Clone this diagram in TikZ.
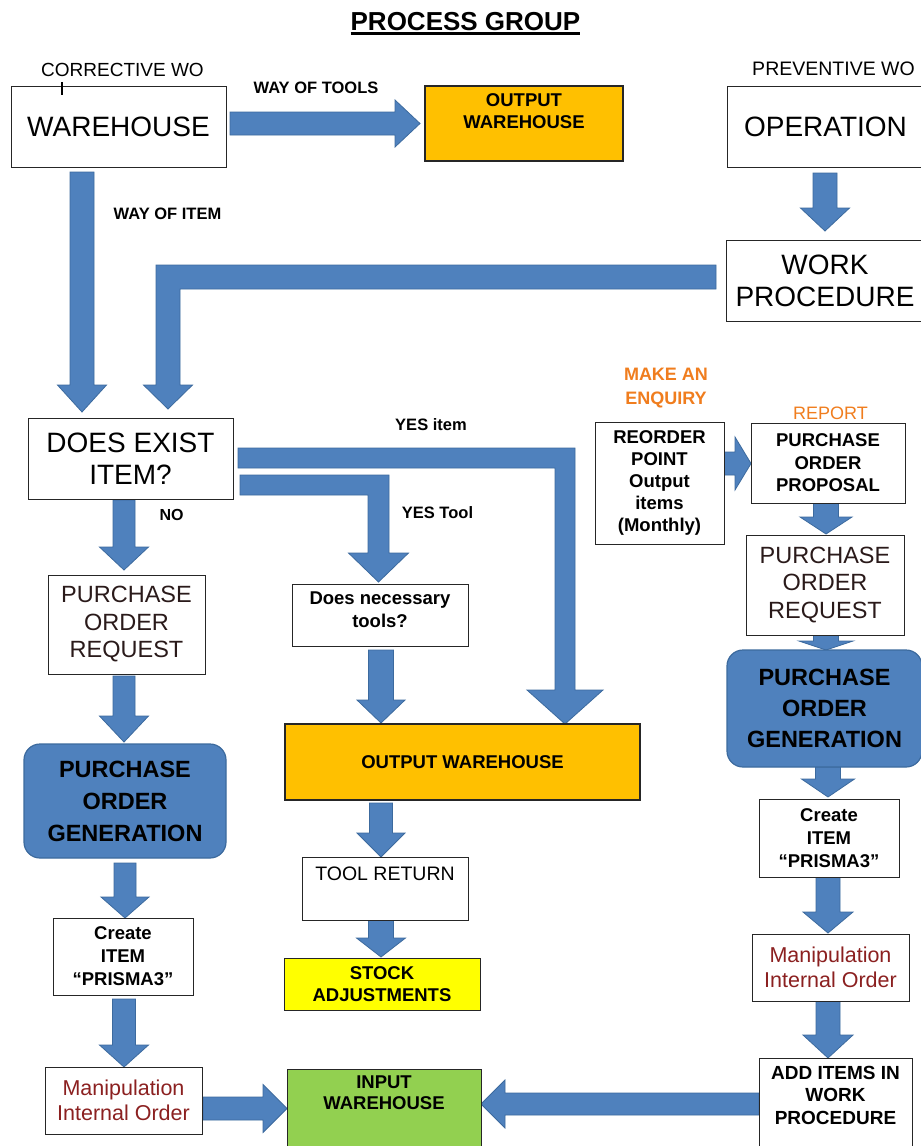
\documentclass[tikz,border=0pt]{standalone}
\usepackage{fontspec}
\setmainfont{Liberation Sans}
\usetikzlibrary{calc}
\definecolor{blu}{HTML}{4F81BD}
\definecolor{bluline}{HTML}{3C6A9E}
\definecolor{orng}{HTML}{FFC000}
\definecolor{yel}{HTML}{FFFF00}
\definecolor{grn}{HTML}{92D050}
\definecolor{txtorange}{HTML}{F07D1E}
\definecolor{dkred}{HTML}{8B2020}
\definecolor{dktext}{HTML}{2A1A1A}
\pgfdeclarelayer{back}
\pgfdeclarelayer{bg}
\pgfsetlayers{back,bg,main}
\newcommand\fsz[2]{\fontsize{#1pt}{#2pt}\selectfont}
% box: style, name, x, y, w, h, valign, font, text
\newcommand\bx[9]{\node[#1,anchor=north west,inner sep=0pt,outer sep=0pt] (#2) at (#3,#4) {\parbox[c][#6pt][#7]{#5pt}{\centering#8 #9\par}};}
% vertical block arrow: xc, src, tgt, shaft half, head half, head len, gap start, gap end
\newcommand\vblk[8]{\filldraw[blk] let \p1=(#2.south), \p2=(#3.north) in
 (#1pt-#4pt,\y1-#7pt) -- (#1pt+#4pt,\y1-#7pt) -- (#1pt+#4pt,\y2+#8pt+#6pt) -- (#1pt+#5pt,\y2+#8pt+#6pt) -- (#1pt,\y2+#8pt) -- (#1pt-#5pt,\y2+#8pt+#6pt) -- (#1pt-#4pt,\y2+#8pt+#6pt) -- cycle;}
% rightward block arrow: yc, src, tgt, ...
\newcommand\rblk[8]{\filldraw[blk] let \p1=(#2.east), \p2=(#3.west) in
 (\x1+#7pt,-#1pt+#4pt) -- (\x2-#8pt-#6pt,-#1pt+#4pt) -- (\x2-#8pt-#6pt,-#1pt+#5pt) -- (\x2-#8pt,-#1pt) -- (\x2-#8pt-#6pt,-#1pt-#5pt) -- (\x2-#8pt-#6pt,-#1pt-#4pt) -- (\x1+#7pt,-#1pt-#4pt) -- cycle;}
% leftward block arrow
\newcommand\lblk[8]{\filldraw[blk] let \p1=(#2.west), \p2=(#3.east) in
 (\x1-#7pt,-#1pt+#4pt) -- (\x2+#8pt+#6pt,-#1pt+#4pt) -- (\x2+#8pt+#6pt,-#1pt+#5pt) -- (\x2+#8pt,-#1pt) -- (\x2+#8pt+#6pt,-#1pt-#5pt) -- (\x2+#8pt+#6pt,-#1pt-#4pt) -- (\x1-#7pt,-#1pt-#4pt) -- cycle;}
\begin{document}
\begin{tikzpicture}[x=1pt,y=-1pt,
 plain/.style={draw=black!85,line width=1pt,fill=white},
 orbox/.style={draw=black!85,line width=1.2pt,fill=orng},
 yelbox/.style={draw=black!85,line width=1pt,fill=yel},
 grbox/.style={draw=black!85,line width=1pt,fill=grn},
 pogbox/.style={draw=bluline,line width=1.2pt,fill=blu,rounded corners=16pt},
 blk/.style={fill=blu,draw=bluline,line width=0.8pt,line join=miter},
 lbl/.style={inner sep=0pt,outer sep=0pt,anchor=base}]
\useasboundingbox (0,0) rectangle (921,1146);
\begin{pgfonlayer}{back}
\fill[white] (0,0) rectangle (921,1146);
\end{pgfonlayer}

% title and labels
\node[lbl] (title) at (465.5,30) {\fsz{26}{30}\bfseries PROCESS GROUP};
\draw[line width=2.2pt] ([yshift=-3.5pt]title.base west) -- ([yshift=-3.5pt]title.base east);
\node[lbl] (cwo) at (122.5,76) {\fsz{19}{23}CORRECTIVE WO};
\node[lbl] (pwo) at (833.5,75) {\fsz{19.5}{23}PREVENTIVE WO};
\node[lbl] (wot) at (316,93) {\fsz{16.5}{20}\bfseries WAY OF TOOLS};
\node[lbl] (woi) at (167.5,219) {\fsz{16.5}{20}\bfseries WAY OF ITEM};
\node[lbl] (yesi) at (431,430) {\fsz{16.5}{20}\bfseries YES item};
\node[lbl] (no) at (171.5,520) {\fsz{16}{20}\bfseries NO};
\node[lbl] (yest) at (437.5,518) {\fsz{16.5}{20}\bfseries YES Tool};
\node[lbl,align=center,font=\fsz{18}{24}\bfseries,text=txtorange] (enq) at (666,404) {MAKE AN\\ENQUIRY};
\node[lbl] (rep) at (830.5,419) {\fsz{18}{22}\color{txtorange}REPORT};

% boxes
\bx{plain}{wh}{11}{86}{215}{81}{c}{\fsz{28}{32}}{WAREHOUSE}
\draw[line width=1.5pt] (62,82) -- (62,95);
\bx{orbox}{outtop}{425}{86}{198}{75}{t}{\fsz{18.5}{22}\bfseries\vspace*{8pt}}{OUTPUT\\WAREHOUSE}
\bx{plain}{op}{727}{86}{197}{81}{c}{\fsz{28}{32}}{OPERATION}
\bx{plain}{wp}{726}{240}{198}{81}{c}{\fsz{28}{32}}{WORK\\PROCEDURE}
\bx{plain}{dei}{28}{418}{205}{81}{c}{\fsz{28}{32}}{DOES EXIST\\ITEM?}
\bx{plain}{porL}{48}{575}{157}{99}{c}{\fsz{23.5}{27.5}\color{dktext}}{PURCHASE\\ORDER\\REQUEST}
\bx{plain}{dnt}{292}{584}{176}{62}{t}{\fsz{18.5}{23}\bfseries\vspace*{8pt}}{Does necessary\\tools?}
\bx{orbox}{owbig}{285}{724}{355}{76}{c}{\fsz{18.5}{22}\bfseries}{OUTPUT WAREHOUSE}
\bx{plain}{tr}{302}{857}{166}{63}{t}{\fsz{19.5}{23}\vspace*{10pt}}{TOOL RETURN}
\bx{yelbox}{sa}{284}{958}{196}{52}{c}{\fsz{18.5}{21.5}\bfseries}{STOCK\\ADJUSTMENTS}
\bx{grbox}{iw}{287}{1069}{194}{78}{t}{\fsz{18.5}{21}\bfseries\vspace*{7pt}}{INPUT\\WAREHOUSE}
\bx{pogbox}{pogL}{24}{744}{202}{114}{c}{\fsz{23.5}{32}\bfseries}{PURCHASE\\ORDER\\GENERATION}
\bx{plain}{ciL}{53}{918}{140}{77}{c}{\fsz{18.5}{23}\bfseries}{Create\\ITEM\\“PRISMA3”}
\bx{plain}{miL}{45}{1067}{157}{67}{c}{\fsz{21.5}{25}\color{dkred}}{Manipulation\\Internal Order}
\bx{plain}{rop}{595}{422}{129}{122}{c}{\fsz{18.5}{22}\bfseries}{REORDER\\POINT\\Output\\items\\(Monthly)}
\bx{plain}{pop}{751}{423}{154}{80}{c}{\fsz{18.5}{22.5}\bfseries}{PURCHASE\\ORDER\\PROPOSAL}
\bx{plain}{porR}{746}{535}{158}{100}{c}{\fsz{23.5}{27.5}\color{dktext}}{PURCHASE\\ORDER\\REQUEST}
\bx{pogbox}{pogR}{727}{650}{195}{117}{c}{\fsz{23.5}{31}\bfseries}{PURCHASE\\ORDER\\GENERATION}
\bx{plain}{ciR}{759}{799}{140}{78}{c}{\fsz{18.5}{23}\bfseries}{Create\\ITEM\\“PRISMA3”}
\bx{plain}{miR}{752}{934}{157}{67}{c}{\fsz{21.5}{25}\color{dkred}}{Manipulation\\Internal Order}
\bx{plain}{aiR}{759}{1058}{153}{89}{t}{\fsz{19}{22.5}\bfseries\vspace*{8pt}}{ADD ITEMS IN\\WORK\\PROCEDURE}

% arrows
\begin{pgfonlayer}{bg}
\filldraw[blk] let \p1=(wp.west), \p2=(dei.north) in
 (\x1-10pt,-265pt) -- (156pt,-265pt) -- (156pt,\y2+33pt) -- (143.5pt,\y2+33pt) -- (168pt,\y2+9pt) -- (192.5pt,\y2+33pt) -- (180pt,\y2+33pt) -- (180pt,-289pt) -- (\x1-10pt,-289pt) -- cycle;
\filldraw[blk] let \p1=(dei.east), \p2=(owbig.north) in
 (\x1+5pt,-448pt) -- (575pt,-448pt) -- (575pt,\y2+34pt) -- (603pt,\y2+34pt) -- (565pt,\y2) -- (527pt,\y2+34pt) -- (555pt,\y2+34pt) -- (555pt,-468pt) -- (\x1+5pt,-468pt) -- cycle;
\filldraw[blk] let \p1=(dei.east), \p2=(dnt.north) in
 (\x1+7pt,-475pt) -- (389pt,-475pt) -- (389pt,\y2+31pt) -- (408.5pt,\y2+31pt) -- (378.5pt,\y2+2pt) -- (348.5pt,\y2+31pt) -- (368pt,\y2+31pt) -- (368pt,-495pt) -- (\x1+7pt,-495pt) -- cycle;
\vblk{82}{wh}{dei}{12}{24.5}{27}{5}{6}
\vblk{825}{op}{wp}{12}{24.5}{23}{6}{9}
\vblk{124}{dei}{porL}{11}{24.5}{23}{1}{5}
\vblk{124}{porL}{pogL}{11}{24.5}{26}{2}{2}
\vblk{125}{pogL}{ciL}{11}{24}{21}{5}{0}
\vblk{124}{ciL}{miL}{11.5}{24.5}{22}{4}{0}
\vblk{381}{dnt}{owbig}{12.5}{24}{23}{4}{1}
\vblk{381}{owbig}{tr}{11.5}{24}{24}{3}{0}
\vblk{381}{tr}{sa}{12.5}{24.5}{19}{0}{1}
\vblk{826}{pop}{porR}{12.5}{26}{17}{0}{1}
\vblk{826}{porR}{pogR}{12.5}{27}{9}{0}{0}
\vblk{828}{pogR}{ciR}{12.5}{26.5}{18}{0}{2}
\vblk{828}{ciR}{miR}{12}{25}{21}{0}{1}
\vblk{828}{miR}{aiR}{12}{25}{23}{0}{0}
\rblk{123.5}{wh}{outtop}{11.5}{23.5}{25}{4}{5}
\rblk{463.5}{rop}{pop}{11.5}{26.5}{16}{0}{0}
\rblk{1108.5}{miL}{iw}{11.5}{24}{24}{1}{0}
\lblk{1104}{aiR}{iw}{11}{24}{24}{0}{0}
\end{pgfonlayer}
\end{tikzpicture}
\end{document}
